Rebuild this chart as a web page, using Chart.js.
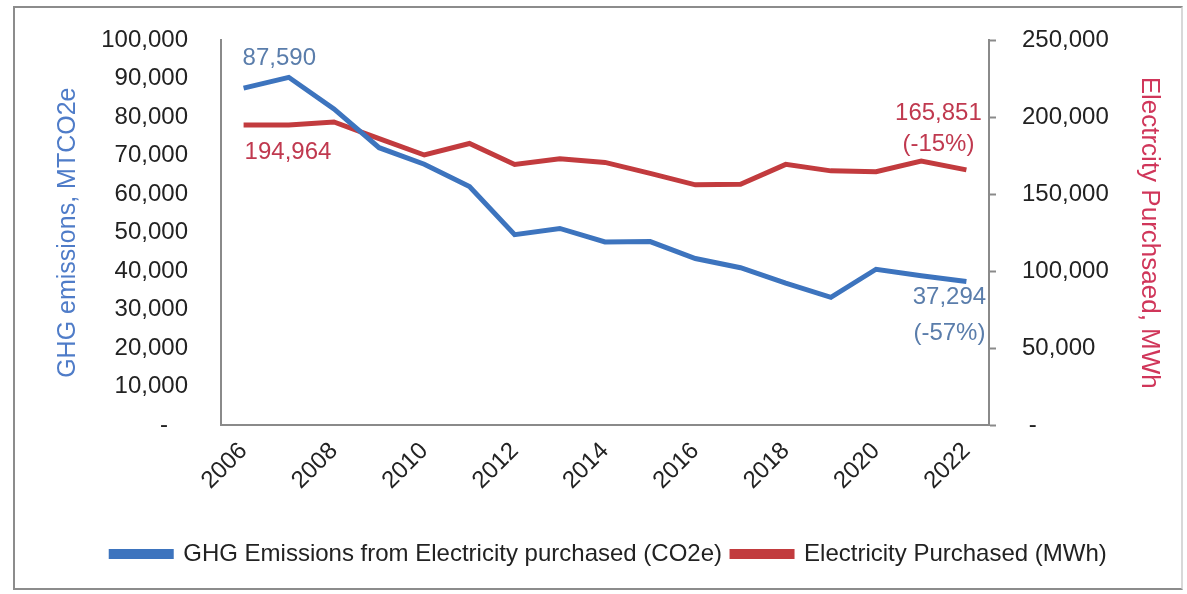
<!DOCTYPE html>
<html>
<head>
<meta charset="utf-8">
<script src="https://cdn.jsdelivr.net/npm/chart.js@4"></script>
<style>
    body { margin: 0; background: #fff; }
    #wrap { position: relative; width: 1187px; height: 594px; overflow: hidden; }
    #frame { position: absolute; left: 13px; top: 6px; width: 1166px; height: 580px; border: 2px solid #8c8c8c; border-right-color: #d8d8d8; }
    canvas { position: absolute; left: 0; top: 0; }
</style>
</head>
<body>
<div id="wrap">
    <div id="frame"></div>
    <canvas id="ghgChart" width="1187" height="594"></canvas>
</div>
<script>
// Datos
const years = ['2006', '2007', '2008', '2009', '2010', '2011', '2012', '2013', '2014',
    '2015', '2016', '2017', '2018', '2019', '2020', '2021', '2022'];
const ghgEmissions = [87590, 90400, 82200, 72100, 67800, 62000, 49500, 51100, 47600,
    47700, 43300, 40900, 36900, 33200, 40500, 38800, 37294];
const electricityMWh = [194964, 195000, 197000, 186200, 175500, 183000, 169400, 173000, 170700,
    163600, 156100, 156500, 169400, 165200, 164700, 171600, 165851];
const ghgLabels = { first: ['87,590'], last: ['37,294', '(-57%)'] };
const elecLabels = { first: ['194,964'], last: ['165,851', '(-15%)'] };

const FONT = "'Liberation Sans', Arial, sans-serif";
const BLUE = '#3D74BE';
const RED = '#C23B3E';

function fmt(v) {
    return v.toLocaleString('en-US');
}

// Etiquetas de datos en el primer y último punto
const pointLabels = {
    id: 'pointLabels',
    afterDatasetsDraw(chart) {
        const ctx = chart.ctx;
        ctx.save();
        ctx.font = '24px ' + FONT;
        ctx.textBaseline = 'middle';
        chart.data.datasets.forEach((ds, i) => {
            const meta = chart.getDatasetMeta(i);
            const cfg = ds.pointLabels;
            const first = meta.data[0];
            const last = meta.data[meta.data.length - 1];
            ctx.fillStyle = cfg.color;
            ctx.textAlign = 'left';
            cfg.first.forEach((t, k) => {
                ctx.fillText(t, first.x + cfg.firstDx, first.y + cfg.firstDy + k * cfg.gap);
            });
            ctx.textAlign = 'center';
            cfg.last.forEach((t, k) => {
                ctx.fillText(t, last.x + cfg.lastDx, last.y + cfg.lastDy + k * cfg.gap);
            });
        });
        ctx.restore();
    }
};

new Chart(document.getElementById('ghgChart').getContext('2d'), {
    type: 'line',
    data: {
        labels: years,
        datasets: [{
            label: 'GHG Emissions from Electricity purchased (CO2e)',
            data: ghgEmissions,
            yAxisID: 'y',
            borderColor: BLUE,
            backgroundColor: BLUE,
            borderWidth: 5,
            pointRadius: 0,
            tension: 0,
            pointLabels: { color: '#5A7DAB', first: ghgLabels.first, last: ghgLabels.last,
                firstDx: -1, firstDy: -30, lastDx: -17, lastDy: 16, gap: 36 }
        }, {
            label: 'Electricity Purchased (MWh)',
            data: electricityMWh,
            yAxisID: 'y1',
            borderColor: RED,
            backgroundColor: RED,
            borderWidth: 5,
            pointRadius: 0,
            tension: 0,
            pointLabels: { color: '#C0394F', first: elecLabels.first, last: elecLabels.last,
                firstDx: 1, firstDy: 27, lastDx: -28, lastDy: -56, gap: 31 }
        }]
    },
    options: {
        responsive: false,
        animation: false,
        layout: {
            padding: { left: 50, right: 19, top: 38, bottom: 18 }
        },
        plugins: {
            legend: {
                position: 'bottom',
                labels: {
                    font: { family: FONT, size: 24 },
                    color: '#222',
                    boxWidth: 60,
                    boxHeight: 5,
                    padding: 10
                }
            },
            tooltip: { enabled: false }
        },
        scales: {
            x: {
                offset: true,
                grid: { display: false },
                border: { display: true, color: '#8a8a8a', width: 2 },
                ticks: {
                    autoSkip: false,
                    minRotation: 45,
                    maxRotation: 45,
                    padding: 4,
                    color: '#222',
                    font: { family: FONT, size: 24 },
                    callback: function(value, index) {
                        return index % 2 === 0 ? this.getLabelForValue(value) : '';
                    }
                },
                afterFit: function(scale) { scale.height = 107; }
            },
            y: {
                position: 'left',
                min: 0,
                max: 100000,
                // sin marcas visibles; la longitud de marca separa las etiquetas del eje
                grid: { display: false, drawTicks: true, tickLength: 30 },
                border: { display: true, color: '#8a8a8a', width: 2 },
                ticks: {
                    stepSize: 10000,
                    padding: 3,
                    color: '#222',
                    font: { family: FONT, size: 24 },
                    callback: v => v === 0 ? '-   ' : fmt(v)
                },
                title: {
                    display: true,
                    text: 'GHG emissions, MTCO2e',
                    color: '#4F7CC8',
                    font: { family: FONT, size: 25 },
                    padding: 3
                },
                afterFit: function(scale) { scale.width = 171; }
            },
            y1: {
                position: 'right',
                min: 0,
                max: 250000,
                grid: { display: true, drawOnChartArea: false, tickLength: 7, color: '#8a8a8a', tickColor: '#8a8a8a', tickWidth: 2 },
                border: { display: true, color: '#8a8a8a', width: 2 },
                ticks: {
                    stepSize: 50000,
                    padding: 26,
                    color: '#222',
                    font: { family: FONT, size: 24 },
                    callback: v => v === 0 ? ' -' : fmt(v)
                },
                title: {
                    display: true,
                    text: 'Electrcity Purchsaed, MWh',
                    color: '#D0365A',
                    font: { family: FONT, size: 26 },
                    padding: 3
                },
                afterFit: function(scale) { scale.width = 179; }
            }
        }
    },
    plugins: [pointLabels]
});
</script>
</body>
</html>
